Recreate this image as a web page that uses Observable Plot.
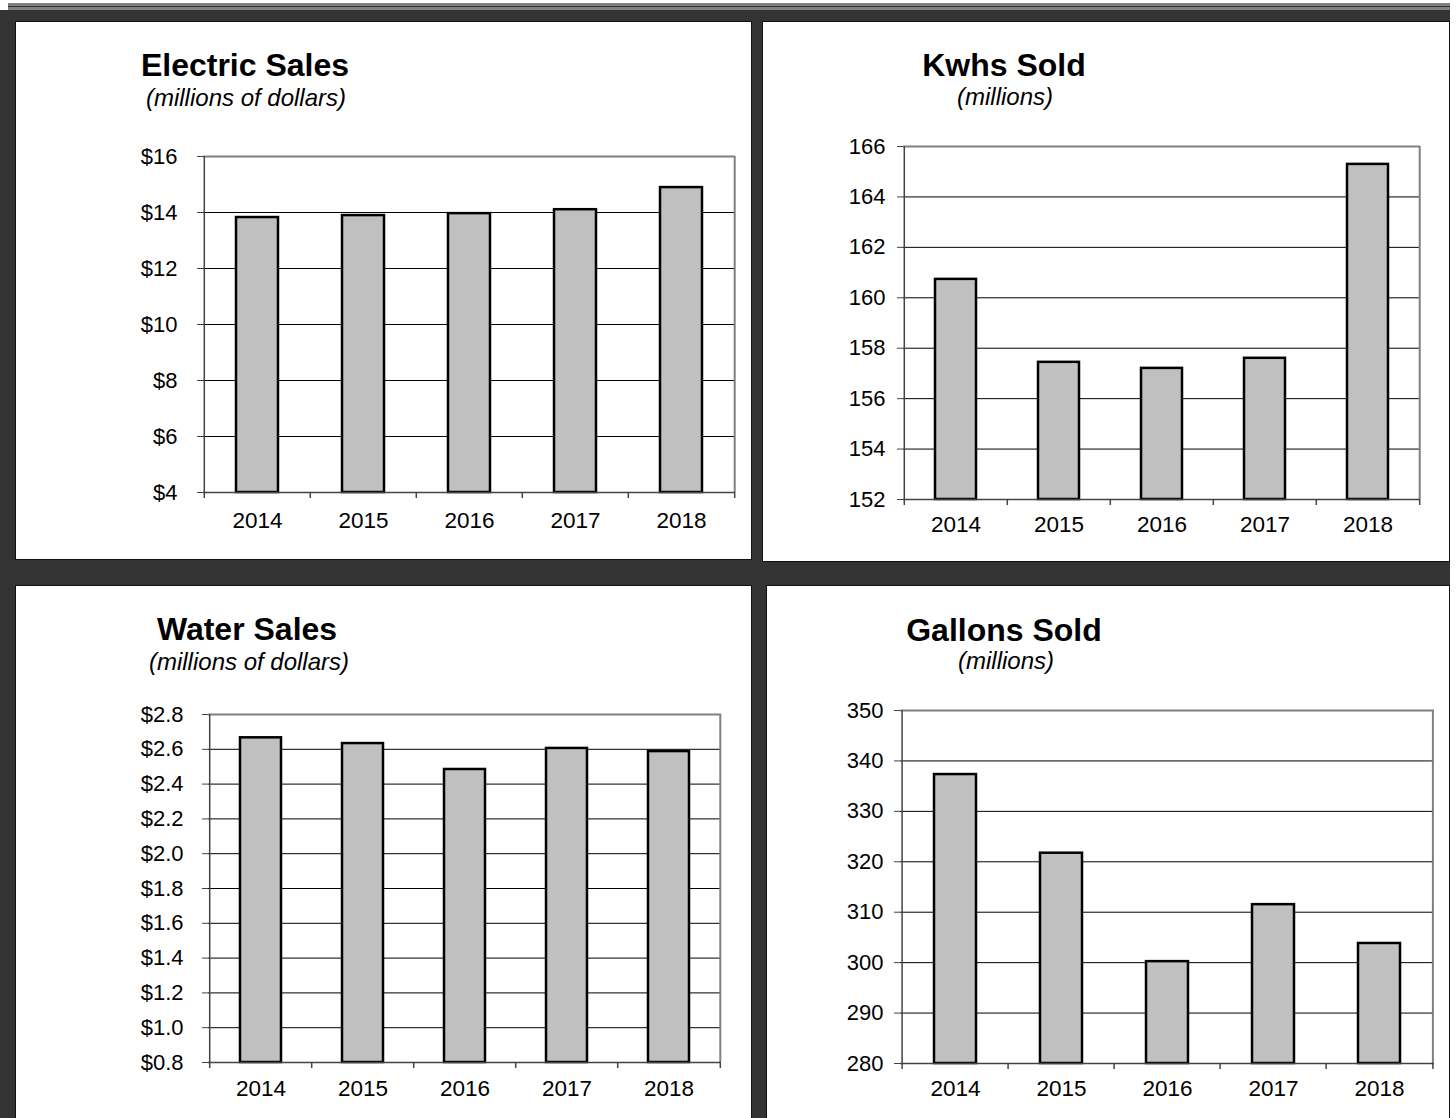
<!DOCTYPE html>
<html>
<head>
<meta charset="utf-8">
<script src="https://cdn.jsdelivr.net/npm/d3@7"></script>
<script src="https://cdn.jsdelivr.net/npm/@observablehq/plot@0.6"></script>
<style>
  html, body { margin: 0; padding: 0; background: #fff; }
  body { width: 1456px; height: 1118px; position: relative; overflow: hidden; font-family: "Liberation Sans", Arial, sans-serif; }
  .abs { position: absolute; }
  .dark { background: #333; }
  .strip { background: #808080; }
  .panel { background: #fff; border: 1px solid #111; box-sizing: border-box; }
  .title { font-weight: bold; font-size: 32px; text-align: center; height: 40px; line-height: 40px; color: #000; }
  .sub { font-style: italic; font-size: 24px; text-align: center; height: 30px; line-height: 30px; color: #000; }
  svg { overflow: visible; }
</style>
</head>
<body>
<div id="root"></div>
<script>
const years = ["2014", "2015", "2016", "2017", "2018"];

const electricSales = [13.82, 13.89, 13.96, 14.10, 14.89];
const kwhsSold = [160.73, 157.44, 157.20, 157.60, 165.29];
const waterSales = [2.666, 2.633, 2.484, 2.605, 2.587];
const gallonsSold = [337.3, 321.7, 300.2, 311.5, 303.8];

const electricTicks = [4, 6, 8, 10, 12, 14, 16];
const kwhsTicks = [152, 154, 156, 158, 160, 162, 164, 166];
const waterTicks = [0.8, 1.0, 1.2, 1.4, 1.6, 1.8, 2.0, 2.2, 2.4, 2.6, 2.8];
const gallonsTicks = [280, 290, 300, 310, 320, 330, 340, 350];

const titles = ["Electric Sales", "Kwhs Sold", "Water Sales", "Gallons Sold"];
const subtitles = ["(millions of dollars)", "(millions)", "(millions of dollars)", "(millions)"];

const root = document.getElementById("root");
function box(cls, x, y, w, h) {
  const d = document.createElement("div");
  d.className = "abs " + cls;
  d.style.left = x + "px"; d.style.top = y + "px";
  d.style.width = w + "px"; d.style.height = h + "px";
  root.appendChild(d);
  return d;
}
// background frame
box("dark", 0, 10, 1450, 1108);
box("strip", 8, 3, 1442, 3);
box("dark", 8, 6, 1442, 1);
box("strip", 8, 7, 1442, 3);
// panels
box("panel", 15, 21, 737, 539);
box("panel", 762, 21, 688, 541);
box("panel", 15, 585, 737, 540);
box("panel", 766, 585, 684, 540);

function label(cls, text, cx, cy) {
  const h = cls === "title" ? 40 : 30;
  const d = box(cls, cx - 200, cy - h / 2, 400, h);
  d.textContent = text;
}

function makeChart(values, ticks, format, L, R, T, B, yPad, xPad) {
  const ml = 120, mr = 20, mt = 20, mb = 55;
  const w = R - L, h = B - T;
  const step = w / years.length;
  const data = years.map((year, i) => ({year, value: values[i]}));
  const ymin = ticks[0], ymax = ticks[ticks.length - 1];
  const last = years[years.length - 1];
  const chart = Plot.plot({
    width: w + ml + mr,
    height: h + mt + mb,
    marginLeft: ml, marginRight: mr, marginTop: mt, marginBottom: mb,
    style: {fontFamily: '"Liberation Sans", Arial, sans-serif', fontSize: "22px", color: "#000", background: "transparent", overflow: "visible"},
    x: {type: "band", domain: years, paddingInner: 0.6, paddingOuter: 0.3, label: null},
    y: {domain: [ymin, ymax], label: null},
    marks: [
      Plot.ruleY(ticks.slice(1, -1), {stroke: "#000", strokeWidth: 1}),
      Plot.ruleY([ymax], {stroke: "#808080", strokeWidth: 2}),
      Plot.ruleX([last], {dx: step / 2, stroke: "#808080", strokeWidth: 2}),
      Plot.barY(data, {x: "year", y1: () => ymin, y2: "value", fill: "#c0c0c0", stroke: "#000", strokeWidth: 2.5}),
      Plot.ruleY([ymin], {stroke: "#444", strokeWidth: 1.5}),
      Plot.ruleX([years[0]], {dx: -step / 2, stroke: "#444", strokeWidth: 1.5}),
      Plot.ruleX(years, {dx: -step / 2, insetTop: h, insetBottom: -6, stroke: "#444", strokeWidth: 1.5}),
      Plot.ruleX([last], {dx: step / 2, insetTop: h, insetBottom: -6, stroke: "#444", strokeWidth: 1.5}),
      Plot.axisY({ticks: ticks, tickSize: 6, tickPadding: yPad, tickFormat: format, stroke: "#444", fontSize: 22}),
      Plot.axisX({tickSize: 0, tickPadding: xPad, fontSize: 22.5})
    ]
  });
  chart.style.position = "absolute";
  chart.style.left = (L - ml) + "px";
  chart.style.top = (T - mt) + "px";
  root.appendChild(chart);
}

makeChart(electricSales, electricTicks, d => "$" + d, 203, 735, 156, 492, 20, 20);
makeChart(kwhsSold, kwhsTicks, d => String(d), 903, 1420, 146, 499, 12, 17);
makeChart(waterSales, waterTicks, d => "$" + d.toFixed(1), 208, 721, 714, 1062, 19, 18);
makeChart(gallonsSold, gallonsTicks, d => String(d), 900, 1434, 710, 1063, 11, 17);

label("title", titles[0], 245, 65);
label("sub", subtitles[0], 246, 98);
label("title", titles[1], 1004, 65);
label("sub", subtitles[1], 1005, 97);
label("title", titles[2], 247, 629);
label("sub", subtitles[2], 249, 662);
label("title", titles[3], 1004, 630);
label("sub", subtitles[3], 1006, 661);
</script>
</body>
</html>
